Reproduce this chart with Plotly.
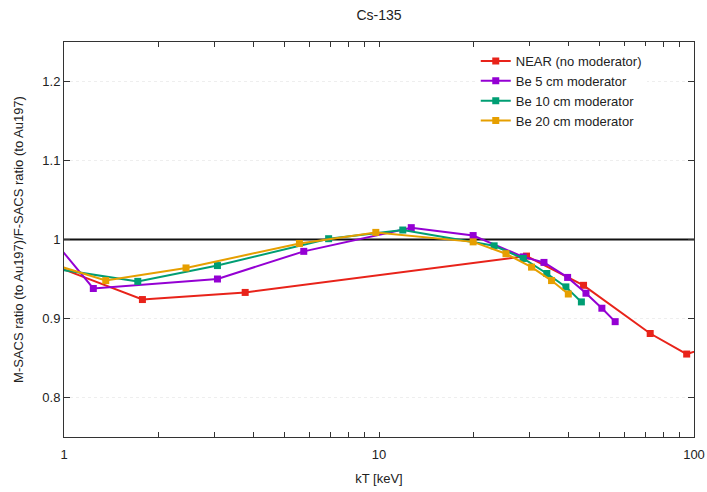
import plotly.graph_objects as go

# ---- data ----
near_x = [0.9, 1.774, 3.76, 29.4, 44.6, 72.6, 94.8, 120]
near_y = [0.969, 0.924, 0.933, 0.979, 0.942, 0.881, 0.855, 0.868]

be5_x = [0.9, 1.239, 3.07, 5.77, 12.66, 19.9, 28.7, 33.4, 39.7, 45.4, 51.0, 56.2]
be5_y = [1.005, 0.938, 0.950, 0.985, 1.015, 1.005, 0.978, 0.971, 0.952, 0.932, 0.913, 0.896]

be10_x = [0.9, 1.715, 3.07, 6.92, 11.9, 23.2, 28.7, 34.1, 39.2, 43.9]
be10_y = [0.964, 0.947, 0.967, 1.001, 1.012, 0.992, 0.976, 0.957, 0.940, 0.921]

be20_x = [0.9, 1.357, 2.44, 5.59, 9.77, 19.9, 25.3, 30.5, 35.3, 39.9]
be20_y = [0.970, 0.948, 0.964, 0.995, 1.009, 0.997, 0.982, 0.965, 0.948, 0.931]

series_names = ["NEAR (no moderator)", "Be 5 cm moderator", "Be 10 cm moderator", "Be 20 cm moderator"]
series_colors = ["#e8231a", "#9400d3", "#009e73", "#e69f00"]

ref_line_x = [1, 100]
ref_line_y = [1.0, 1.0]

x_ticks = [1, 10, 100]
x_minor_ticks = [2, 3, 4, 5, 6, 7, 8, 9, 20, 30, 40, 50, 60, 70, 80, 90]
y_ticks = [0.8, 0.9, 1.0, 1.1, 1.2]
y_tick_text = ["0.8", "0.9", "1", "1.1", "1.2"]

FONT = "Liberation Sans, Arial, sans-serif"

all_x_ticks = sorted(x_ticks + x_minor_ticks)
all_x_text = [str(v) if v in x_ticks else "" for v in all_x_ticks]

fig = go.Figure()
# reference line at ratio = 1 (drawn first, beneath the series)
fig.add_trace(go.Scatter(
    x=ref_line_x, y=ref_line_y, mode="lines", showlegend=False, hoverinfo="skip",
    line=dict(color="#111", width=2.2),
))
for xs, ys, name, col in zip([near_x, be5_x, be10_x, be20_x],
                             [near_y, be5_y, be10_y, be20_y],
                             series_names, series_colors):
    fig.add_trace(go.Scatter(
        x=xs, y=ys, name=name, mode="lines+markers",
        line=dict(color=col, width=2),
        marker=dict(symbol="square", size=7, color=col),
    ))

fig.update_layout(
    width=707, height=492,
    margin=dict(l=64, r=13, t=42, b=55, autoexpand=False),
    paper_bgcolor="white", plot_bgcolor="white",
    font=dict(family=FONT, size=13, color="#222"),
    title=dict(text="Cs-135", x=0.5, xanchor="center", xref="paper",
               y=1 - 15 / 492, yanchor="middle", font=dict(size=14, color="#222")),
    legend=dict(x=0.925, y=0.99, xanchor="right", yanchor="top",
                bgcolor="rgba(255,255,255,1)", borderwidth=0,
                font=dict(size=13, color="#222")),
    showlegend=True,
)

fig.update_xaxes(
    type="log", range=[0, 2],
    tickmode="array", tickvals=all_x_ticks, ticktext=all_x_text,
    ticks="inside", ticklen=5, tickcolor="#333",
    showline=True, linecolor="#333", linewidth=1, mirror="allticks",
    showgrid=False,
    zeroline=False, automargin=False,
    tickfont=dict(size=13), ticklabelstandoff=5,
    title=dict(text="kT [keV]", font=dict(size=13), standoff=13),
)
fig.update_yaxes(
    range=[0.75, 1.25],
    tickmode="array", tickvals=y_ticks, ticktext=y_tick_text,
    ticks="inside", ticklen=6, tickcolor="#333",
    showline=True, linecolor="#333", linewidth=1, mirror="allticks",
    showgrid=True, gridcolor="#eeeeee", griddash="dot", gridwidth=1,
    zeroline=False, automargin=False,
    tickfont=dict(size=13),
    title=dict(text="M-SACS ratio (to Au197)/F-SACS ratio (to Au197)", font=dict(size=13), standoff=15),
)

fig.write_html("out.html", post_script="document.body.style.margin='0';",
               config={"displayModeBar": False})
